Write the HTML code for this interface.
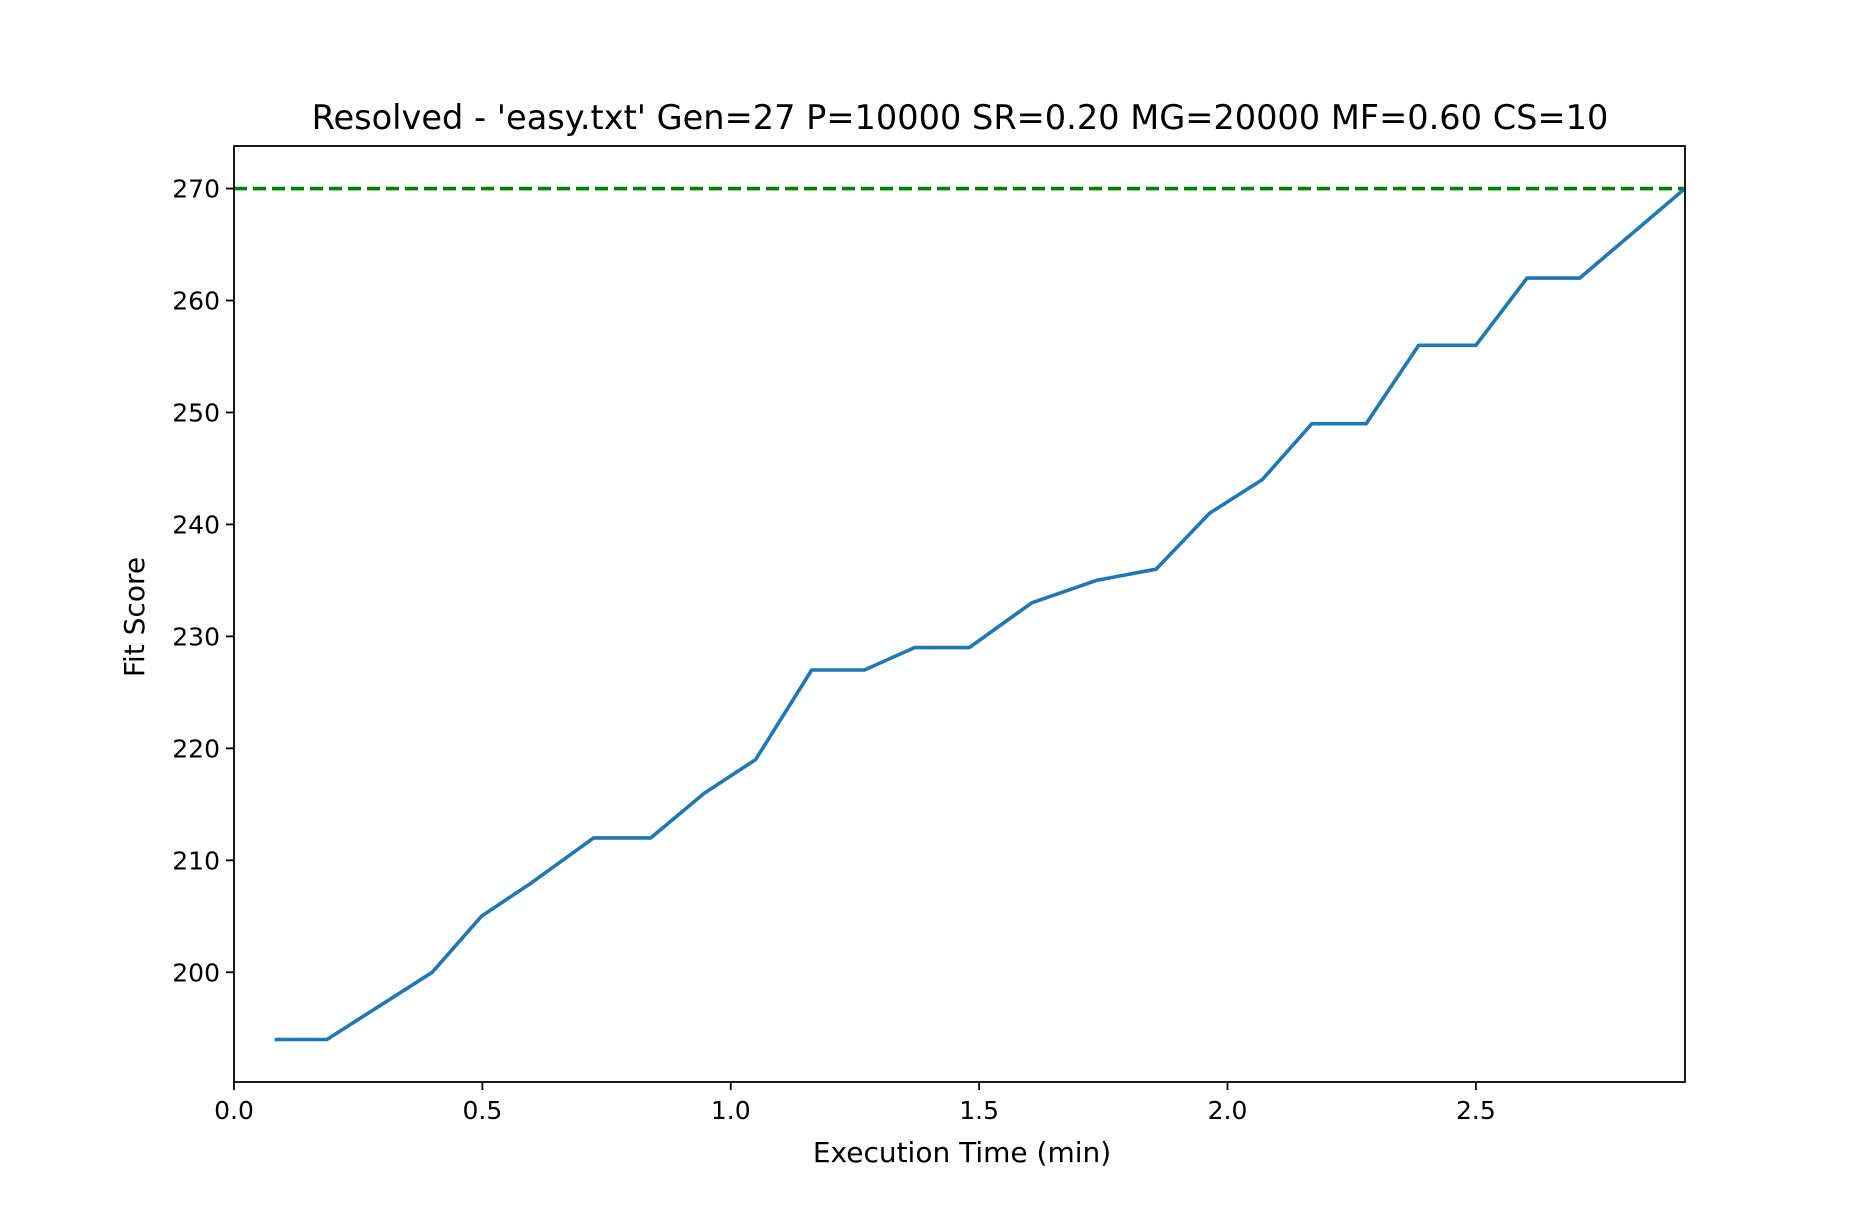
<!DOCTYPE html>
<html><head><meta charset="utf-8"><style>
body{margin:0;background:#fff}
svg{display:block;font-family:"DejaVu Sans","Liberation Sans",sans-serif}
</style></head><body>
<svg id="chart" width="1872" height="1216" viewBox="0 0 1872 1216" xmlns="http://www.w3.org/2000/svg">
<rect width="1872" height="1216" fill="#fff"/>
<text x="960" y="129" font-size="33.6" text-anchor="middle">Resolved - 'easy.txt' Gen=27 P=10000 SR=0.20 MG=20000 MF=0.60 CS=10</text>
<g id="plot"></g>
<text x="962" y="1162" font-size="28" text-anchor="middle">Execution Time (min)</text>
<text x="0" y="0" font-size="28" text-anchor="middle" transform="translate(144,617) rotate(-90)">Fit Score</text>
</svg>
<script>
const xValues=[0.082,0.187,0.399,0.498,0.599,0.724,0.839,0.947,1.05,1.163,1.269,1.37,1.48,1.606,1.736,1.856,1.964,2.07,2.17,2.279,2.385,2.5,2.603,2.709,2.921];
const yValues=[194,194,200,205,208,212,212,216,219,227,227,229,229,233,235,236,241,244,249,249,256,256,262,262,270];
const targetScore=270;
const xTicks=[0,0.5,1,1.5,2,2.5];
const xTickLabels=["0.0","0.5","1.0","1.5","2.0","2.5"];
const yTicks=[200,210,220,230,240,250,260,270];
const yTickLabels=["200","210","220","230","240","250","260","270"];
const L=234,R=1685,T=146,B=1082,xMin=0,xMax=2.921,yMin=190.2,yMax=273.8;
const NS="http://www.w3.org/2000/svg";
const g=document.getElementById('plot');
function sx(v){return L+(v-xMin)/(xMax-xMin)*(R-L);}
function sy(v){return B-(v-yMin)/(yMax-yMin)*(B-T);}
function mk(t,a){const e=document.createElementNS(NS,t);for(const k in a)e.setAttribute(k,a[k]);g.appendChild(e);return e;}
const tgt=mk('line',{x1:L,x2:R,y1:sy(targetScore),y2:sy(targetScore),stroke:'#008000','stroke-width':3.6,'stroke-dasharray':'13,6'});


const pts=xValues.map((x,i)=>sx(x).toFixed(1)+','+sy(yValues[i]).toFixed(1)).join(' ');
const ln=mk('polyline',{points:pts,fill:'none',stroke:'#1f77b4','stroke-width':3.6,'stroke-linejoin':'round'});


const fr=mk('rect',{x:L,y:T,width:R-L,height:B-T,fill:'none',stroke:'#000','stroke-width':1.8});


xTicks.forEach((v,i)=>{
 const t=mk('line',{x1:sx(v),x2:sx(v),y1:B,y2:B+8,stroke:'#000','stroke-width':1.8});
 
 
 const l=mk('text',{x:sx(v),y:B+37,'font-size':25,'text-anchor':'middle'});
 l.textContent=xTickLabels[i];
 
 
});
yTicks.forEach((v,i)=>{
 const t=mk('line',{x1:L-8,x2:L,y1:sy(v),y2:sy(v),stroke:'#000','stroke-width':1.8});
 
 
 const l=mk('text',{x:L-14,y:sy(v)+9,'font-size':25,'text-anchor':'end'});
 l.textContent=yTickLabels[i];
 
 
});
</script>
</body></html>
